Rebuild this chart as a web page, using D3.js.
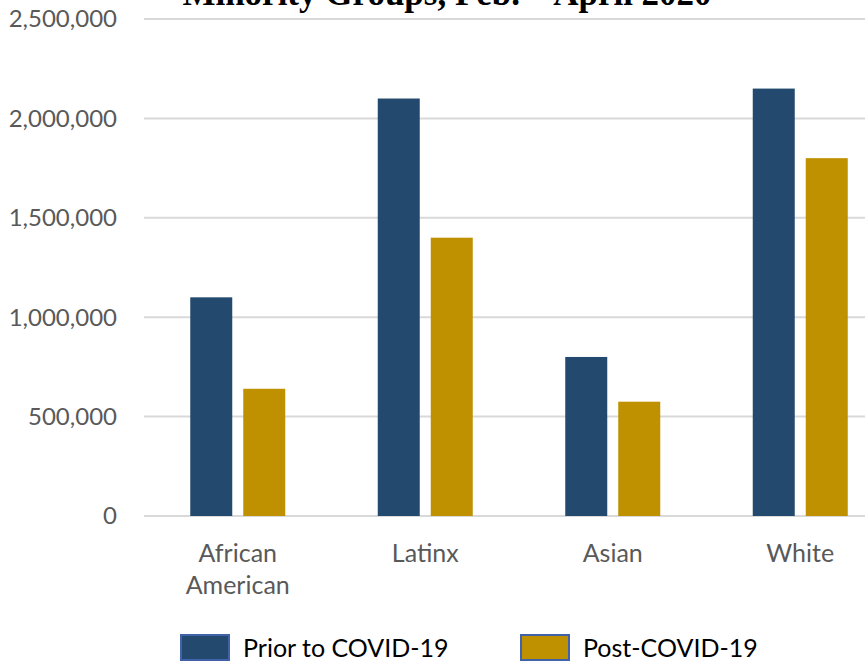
<!DOCTYPE html>
<html>
<head>
<meta charset="utf-8">
<script src="https://cdn.jsdelivr.net/npm/d3@7"></script>
<style>
  body { margin: 0; background: #fff; }
  svg { display: block; font-family: Lato, "Open Sans", sans-serif; }
</style>
</head>
<body>
<svg id="chart" width="865" height="664"></svg>
<script>
// chart data
const categories = [["African", "American"], ["Latinx"], ["Asian"], ["White"]];
const series = ["Prior to COVID-19", "Post-COVID-19"];
const prior = [1100000, 2100000, 800000, 2150000];
const post = [640000, 1400000, 575000, 1800000];
const yTicks = [0, 500000, 1000000, 1500000, 2000000, 2500000];
const title = "Minority Groups, Feb. \u2013 April 2020";

const colors = ["#234a6e", "#bf9000"];

const svg = d3.select("#chart");

const x = d3.scaleBand()
    .domain(d3.range(categories.length))
    .range([144, 894])
    .paddingInner(0)
    .paddingOuter(0);

const y = d3.scaleLinear()
    .domain([0, 2500000])
    .range([516, 19]);

// gridlines
svg.append("g")
    .selectAll("line")
    .data(yTicks)
    .join("line")
    .attr("x1", 144)
    .attr("x2", 865)
    .attr("y1", d => y(d))
    .attr("y2", d => y(d))
    .attr("stroke", "#d9d9d9")
    .attr("stroke-width", 2);

// y tick labels
svg.append("g")
    .selectAll("text")
    .data(yTicks)
    .join("text")
    .attr("x", 117)
    .attr("y", d => y(d))
    .attr("dy", "0.35em")
    .attr("text-anchor", "end")
    .attr("fill", "#595959")
    .style("font-size", "24px")
    .text(d => d3.format(",")(d));

// bars
const barW = 42, gap = 11;
const groups = svg.append("g")
    .selectAll("g")
    .data(categories.map((c, i) => [prior[i], post[i]]))
    .join("g")
    .attr("transform", (d, i) => `translate(${x(i) + x.bandwidth() / 2},0)`);

groups.selectAll("rect")
    .data(d => d)
    .join("rect")
    .attr("x", (d, j) => j === 0 ? -(barW + gap / 2) : gap / 2)
    .attr("y", d => y(d))
    .attr("width", barW)
    .attr("height", d => y(0) - y(d))
    .attr("fill", (d, j) => colors[j]);

// category labels
const catText = svg.append("g")
    .selectAll("text")
    .data(categories)
    .join("text")
    .attr("x", (d, i) => x(i) + x.bandwidth() / 2)
    .attr("y", 562)
    .attr("text-anchor", "middle")
    .attr("fill", "#595959")
    .style("font-size", "25px");

catText.selectAll("tspan")
    .data(d => d)
    .join("tspan")
    .attr("x", function () { return d3.select(this.parentNode).attr("x"); })
    .attr("dy", (d, k) => k === 0 ? 0 : 32)
    .text(d => d);

// title (cut off at top, as in the source)
svg.append("text")
    .attr("x", 447)
    .attr("y", 5)
    .attr("text-anchor", "middle")
    .style("font-family", "'Liberation Serif', serif")
    .style("font-weight", "bold")
    .style("font-size", "35px")
    .text(title);

// legend
const legendX = [180, 520];
const legend = svg.append("g")
    .selectAll("g")
    .data(series)
    .join("g")
    .attr("transform", (d, i) => `translate(${legendX[i]},634)`);

legend.append("rect")
    .attr("x", 1)
    .attr("y", 1)
    .attr("width", 48)
    .attr("height", 25)
    .attr("fill", (d, i) => colors[i])
    .attr("stroke", "#3f62a8")
    .attr("stroke-width", 2);

legend.append("text")
    .attr("x", 63)
    .attr("y", 14)
    .attr("dy", "0.35em")
    .attr("fill", "#000")
    .style("font-size", "25px")
    .text(d => d);
</script>
</body>
</html>
